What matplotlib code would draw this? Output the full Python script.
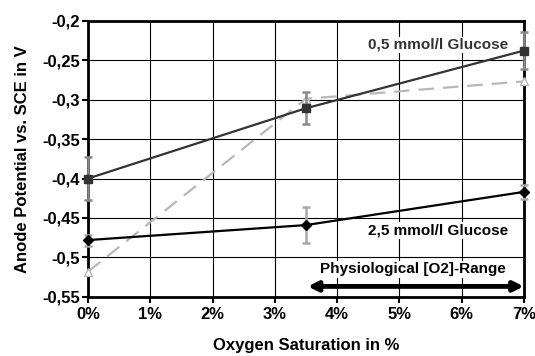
import numpy as np
import matplotlib
matplotlib.use("Agg")
import matplotlib.pyplot as plt

plt.rcParams['font.family'] = ['Liberation Sans', 'DejaVu Sans']
plt.rcParams['font.weight'] = 'bold'

# Oxygen saturation in %
o2 = [0, 3.5, 7]

# 0,5 mmol/l glucose
low_glc = [-0.400, -0.311, -0.238]
low_err = [0.027, 0.020, 0.023]

# 2,5 mmol/l glucose
high_glc = [-0.478, -0.459, -0.417]
high_err = [0.007, 0.023, 0.009]

# dashed reference series
ref = [-0.518, -0.299, -0.277]

xticks = [0, 1, 2, 3, 4, 5, 6, 7]
yticks = [-0.55, -0.5, -0.45, -0.4, -0.35, -0.3, -0.25, -0.2]

fig = plt.figure(figsize=(5.35, 3.56), dpi=100)
ax = fig.add_axes([0.1645, 0.166, 0.8145, 0.776])

ax.plot(o2, ref, '--', color='#b8b8b8', lw=1.6, dashes=(7, 4),
        marker='^', ms=6, mfc='white', mec='#b8b8b8', clip_on=False, zorder=3)

ax.errorbar(o2, low_glc, yerr=low_err, fmt='none', ecolor='#8a8a8a',
            elinewidth=1.8, capsize=3, capthick=1.8, clip_on=False, zorder=4)
ax.plot(o2, low_glc, '-', color='#333333', lw=1.6, marker='s', ms=6,
        clip_on=False, zorder=5)

ax.errorbar(o2, high_glc, yerr=high_err, fmt='none', ecolor='#a8a8a8',
            elinewidth=1.8, capsize=3, capthick=1.8, clip_on=False, zorder=4)
ax.plot(o2, high_glc, '-', color='black', lw=1.6, marker='D', ms=5,
        clip_on=False, zorder=5)

ax.set_xlim(0, 7)
ax.set_ylim(-0.55, -0.2)
ax.set_xticks(xticks)
ax.set_xticklabels(['{}%'.format(x) for x in xticks])
ax.set_yticks(yticks)
ax.set_yticklabels(['{:g}'.format(y).replace('.', ',') for y in yticks])
ax.tick_params(labelsize=12, length=4, width=1.5, direction='out', pad=1.5)
ax.tick_params(axis='x', pad=3)
ax.grid(True, color='black', lw=0.8)
for s in ax.spines.values():
    s.set_linewidth(2)

ax.set_xlabel('Oxygen Saturation in %', fontsize=12, fontweight='bold', labelpad=12)
ax.set_ylabel('Anode Potential vs. SCE in V', fontsize=12, fontweight='bold', labelpad=9)

ax.text(6.75, -0.2308, '0,5 mmol/l Glucose', ha='right', va='center', fontsize=11,
        color='#333333', fontweight='bold',
        bbox=dict(facecolor='white', edgecolor='none', pad=1))
ax.text(6.75, -0.4657, '2,5 mmol/l Glucose', ha='right', va='center', fontsize=11,
        fontweight='bold', bbox=dict(facecolor='white', edgecolor='none', pad=1))
ax.text(5.22, -0.515, 'Physiological [O2]-Range', ha='center', va='center',
        fontsize=11, fontweight='bold',
        bbox=dict(facecolor='white', edgecolor='none', pad=1))
ax.annotate('', xy=(3.53, -0.5367), xytext=(7, -0.5367),
            arrowprops=dict(arrowstyle='<|-|>', color='black', lw=3.5,
                            mutation_scale=14, shrinkA=0, shrinkB=0))

fig.savefig('out.png', dpi=100)
